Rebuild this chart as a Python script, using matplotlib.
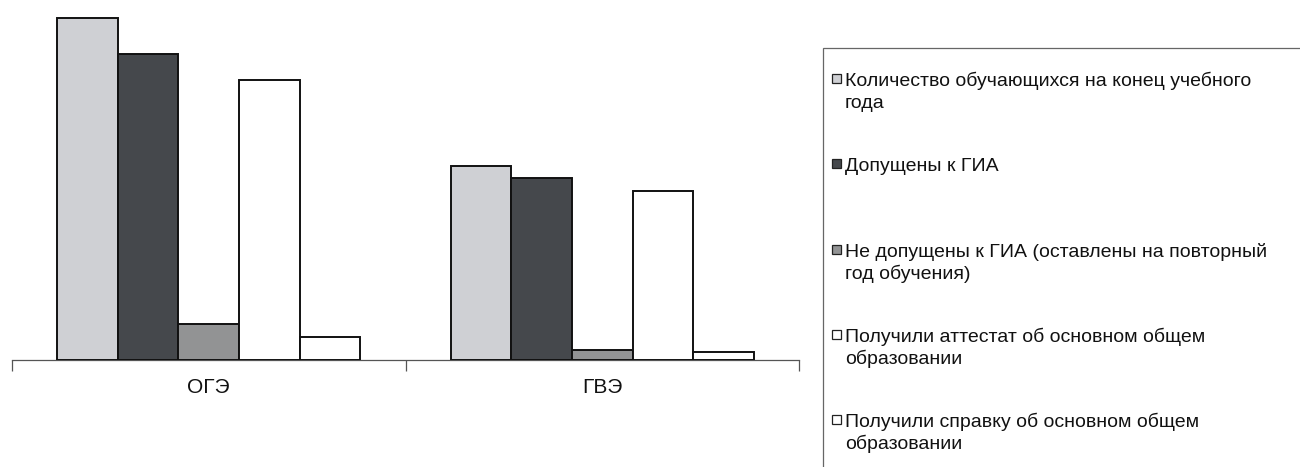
import numpy as np
import matplotlib.pyplot as plt
from matplotlib.patches import Rectangle

plt.rcParams['font.family'] = ['Liberation Sans', 'DejaVu Sans']

# данные (оценка по рисунку, шкала без подписей)
categories = ['ОГЭ', 'ГВЭ']
series_names = [
    'Количество обучающихся на конец учебного\nгода',
    'Допущены к ГИА',
    'Не допущены к ГИА (оставлены на повторный\nгод обучения)',
    'Получили аттестат об основном общем\nобразовании',
    'Получили справку об основном общем\nобразовании',
]
total_end_year = [342, 194]
admitted = [306, 182]
not_admitted = [36, 10]
got_certificate = [280, 169]
got_reference = [23, 8]

values = [total_end_year, admitted, not_admitted, got_certificate, got_reference]
colors = ['#cfd0d4', '#45484c', '#929394', '#ffffff', '#ffffff']

W, H = 1300, 467
fig = plt.figure(figsize=(W / 100, H / 100), dpi=100)
ax = fig.add_axes([12 / W, 107 / H, 787 / W, 350 / H])

x = np.arange(len(categories))
width = 0.154
for i, (vals, col) in enumerate(zip(values, colors)):
    ax.bar(x + (i - 2) * width, vals, width, color=col,
           edgecolor='#111111', linewidth=1.4, zorder=3)

ax.set_xlim(-0.5, len(categories) - 0.5)
ax.set_ylim(0, 350)
ax.set_yticks([])
for s in ['top', 'right', 'left']:
    ax.spines[s].set_visible(False)
ax.spines['bottom'].set_color('#555555')
ax.spines['bottom'].set_linewidth(0.9)

ax.set_xticks(x)
ax.set_xticklabels(categories, fontsize=15, color='#111111')
ax.tick_params(axis='x', which='major', length=0, pad=13)
ax.set_xticks(np.arange(-0.5, len(categories)), minor=True)
ax.tick_params(axis='x', which='minor', length=8, direction='out',
               color='#555555', width=0.9)

# рамка легенды
fig.patches.append(Rectangle((823 / W, -0.05), 0.5, (H - 48) / H + 0.05,
                             transform=fig.transFigure, fill=False,
                             edgecolor='#666666', linewidth=0.9))

# элементы легенды (базовая линия первой строки)
base0 = 86
step = 85.3
line_gap = 22
for i, (name, col) in enumerate(zip(series_names, colors)):
    ypix = base0 + i * step
    fig.patches.append(Rectangle((832 / W, 1 - (ypix - 3) / H),
                                 9 / W, 9 / H,
                                 transform=fig.transFigure, facecolor=col,
                                 edgecolor='#222222', linewidth=0.9))
    for k, line in enumerate(name.split('\n')):
        fig.text(845 / W, 1 - (ypix + k * line_gap) / H, line, fontsize=14,
                 va='baseline', ha='left', color='#111111')

fig.savefig('out.png', dpi=100)
